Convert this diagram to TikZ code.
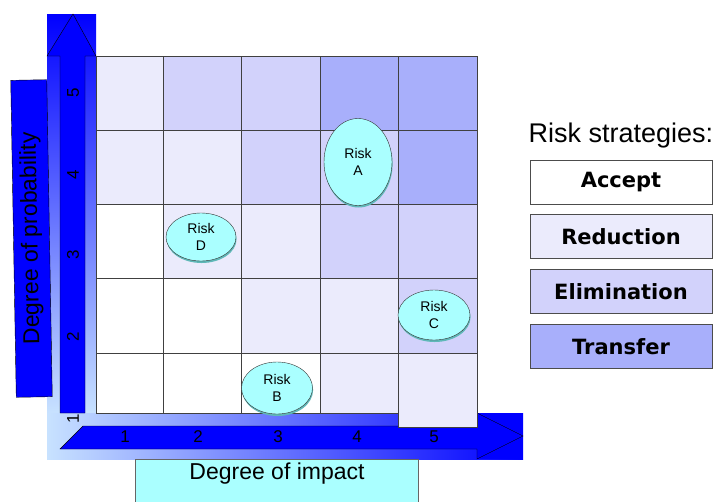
\documentclass[tikz,border=0pt]{standalone}
\usepackage{fontspec}
\setmainfont{Liberation Sans}
\newfontfamily\heavyfont{DejaVu Sans}
\usetikzlibrary{shapes.geometric, shadows, positioning}

\definecolor{axisblue}{HTML}{0000FF}
\definecolor{axispale}{HTML}{C8E2FF}
\definecolor{riskcyan}{HTML}{AAFFFF}
\definecolor{riskshade}{HTML}{5FB8B8}
\definecolor{accept}{HTML}{FFFFFF}
\definecolor{reduce}{HTML}{EBEBFC}
\definecolor{elim}{HTML}{D2D2FB}
\definecolor{transfer}{HTML}{A8AFFB}

\tikzset{
  riskbubble/.style={ellipse, draw=black!80, fill=riskcyan, inner sep=0, align=center,
    font=\fontsize{14}{17}\selectfont,
    drop shadow={shadow xshift=0.6pt, shadow yshift=-2pt, fill=riskshade, opacity=1}},
  stratbox/.style={draw=black!70, line width=0.8pt, minimum width=182, minimum height=44,
    font=\heavyfont\fontsize{21}{23}\selectfont\bfseries},
  axisnum/.style={font=\fontsize{17}{19}\selectfont},
}

\begin{document}
\begin{tikzpicture}[x=1pt, y=-1pt]
  \useasboundingbox (0,0) rectangle (719,501);
  % backdrop of the axes
  \shade[top color=axisblue, bottom color=axispale] (47,14) rectangle (96,413);
  \shade[left color=axispale, right color=axisblue] (47,413) rectangle (523,459);
  \fill[axisblue] (477,413) rectangle (523,459);
  % axis arrows
  \draw[fill=axisblue] (60,413) -- (60,56) -- (47,56) -- (73,14) -- (96,56) -- (85,56) -- (85,413) -- cycle;
  \draw[fill=axisblue] (60,449) -- (83,426) -- (477,426) -- (477,413) -- (523,436) -- (477,459) -- (477,449) -- cycle;
  % the grid, rows from top (5) to bottom (1)
  \foreach \row/\top/\bot/\cols in {5/56/130/{reduce,elim,elim,transfer,transfer},
      4/130/204/{reduce,reduce,elim,elim,transfer},
      3/204/278/{accept,reduce,reduce,elim,elim},
      2/278/353/{accept,accept,reduce,reduce,elim},
      1/353/413/{accept,accept,accept,reduce,reduce}}{
    \foreach \cc [count=\col] in \cols {
      \pgfmathsetmacro{\xl}{{96,163,241,320,398}[\col-1]}
      \pgfmathsetmacro{\xr}{{163,241,320,398,477}[\col-1]}
      \pgfmathsetmacro{\yb}{(\row==1 && \col==5) ? 427 : \bot}
      \filldraw[fill=\cc, draw=black!75, line width=0.8pt] (\xl,\top) rectangle (\xr,\yb);
    }
  }
  % axis numbers
  \foreach \n/\y in {1/419,2/337,3/255,4/175,5/93}
    \node[axisnum, rotate=90] (ynum\n) at (73,\y) {\n};
  \foreach \n/\x in {1/125,2/198,3/278,4/357,5/434}
    \node[axisnum] (xnum\n) at (\x,437) {\n};
  % axis titles
  \node[draw, fill=axisblue, rotate=91, minimum width=317, minimum height=36,
        font=\fontsize{23}{25}\selectfont] (problabel) at (31.5,238.5) {Degree of probability};
  \draw[draw=black!60, fill=riskcyan] (135,459) rectangle (418,505);
  \node[font=\fontsize{23}{25}\selectfont] (impactlabel) at (277,474) {Degree of impact};
  % risks
  \node[riskbubble, minimum width=68, minimum height=87] (riskA) at (358,162) {Risk\\A};
  \node[riskbubble, minimum width=70, minimum height=48] (riskD) at (201,237) {Risk\\D};
  \node[riskbubble, minimum width=72, minimum height=50] (riskC) at (434,315) {Risk\\C};
  \node[riskbubble, minimum width=71, minimum height=52] (riskB) at (277,388) {Risk\\B};
  % legend
  \node[anchor=west, font=\fontsize{27}{29}\selectfont] (legendtitle) at (525,136) {Risk strategies:};
  \node[stratbox, fill=accept] (acceptbox) at (621,182) {Accept};
  \node[stratbox, fill=reduce, below=10pt of acceptbox] (reducebox) {Reduction};
  \node[stratbox, fill=elim, below=10pt of reducebox] (elimbox) {Elimination};
  \node[stratbox, fill=transfer, below=10pt of elimbox] (transferbox) {Transfer};
\end{tikzpicture}
\end{document}
